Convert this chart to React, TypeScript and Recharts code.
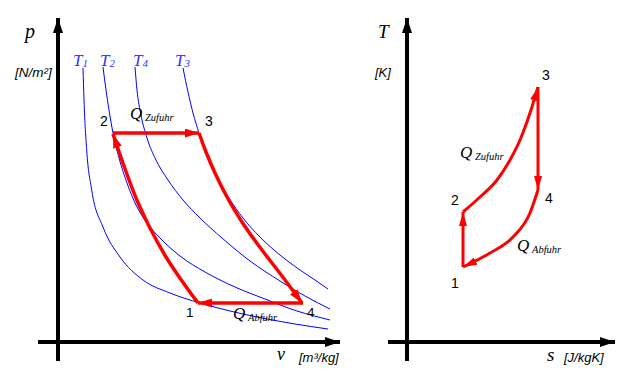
import React from 'react';
import { ComposedChart, Line, XAxis, YAxis } from 'recharts';

// ---- p-v diagram (v, p in diagram units, origin at axis crossing) ----
const isoT1 = [
  { x: 25, y: 274 }, { x: 26, y: 242 }, { x: 28.7, y: 192 }, { x: 33.7, y: 152 },
  { x: 45, y: 115 }, { x: 62, y: 85 }, { x: 85, y: 62 }, { x: 112, y: 49 },
  { x: 142, y: 39 }, { x: 172, y: 31 }, { x: 204, y: 24 }, { x: 237, y: 18 }, { x: 270, y: 13 },
];
const isoT2 = [
  { x: 45, y: 275 }, { x: 48, y: 252 }, { x: 51, y: 232 }, { x: 55, y: 209 },
  { x: 61, y: 184 }, { x: 69, y: 159 }, { x: 78, y: 137 }, { x: 89, y: 119 },
  { x: 102, y: 104 }, { x: 122, y: 86 }, { x: 147, y: 70 }, { x: 177, y: 55 },
  { x: 207, y: 43 }, { x: 239, y: 31 }, { x: 272, y: 22 },
];
const isoT4 = [
  { x: 77, y: 275 }, { x: 79, y: 252 }, { x: 83, y: 227 }, { x: 89, y: 204 },
  { x: 98, y: 182 }, { x: 110, y: 162 }, { x: 125, y: 142 }, { x: 142, y: 124 },
  { x: 164, y: 104 }, { x: 192, y: 81 }, { x: 222, y: 61 }, { x: 247, y: 46 }, { x: 272, y: 33 },
];
const isoT3 = [
  { x: 125, y: 274 }, { x: 130, y: 250 }, { x: 135, y: 229 }, { x: 141, y: 209 },
  { x: 149, y: 187 }, { x: 159, y: 165 }, { x: 171, y: 144 }, { x: 185, y: 124 },
  { x: 202, y: 105 }, { x: 222, y: 87 }, { x: 242, y: 72 }, { x: 257, y: 62 }, { x: 270, y: 53 },
];
// 2 -> 1 listed with increasing v; arrow drawn at the start (point 2)
const pv12 = [
  { x: 55, y: 208 }, { x: 66, y: 176 }, { x: 78, y: 144 }, { x: 92, y: 114 },
  { x: 108, y: 85 }, { x: 124, y: 61 }, { x: 140, y: 39 },
];
const pv23 = [{ x: 55, y: 209 }, { x: 141, y: 209 }];
const pv34 = [
  { x: 141, y: 209 }, { x: 148, y: 190 }, { x: 157, y: 169 }, { x: 169, y: 145 },
  { x: 184, y: 120 }, { x: 204, y: 92 }, { x: 224, y: 66 }, { x: 244, y: 39 },
];
const pv41 = [{ x: 245, y: 39 }, { x: 140, y: 39 }];
const pvAxisY = [{ x: 0, y: -19 }, { x: 0, y: 324 }];
const pvAxisX = [{ x: -20, y: 0 }, { x: 282, y: 0 }];

// ---- T-s diagram ----
const ts12 = [{ x: 56, y: 75 }, { x: 56, y: 130 }];
const ts23 = [
  { x: 56, y: 130 }, { x: 73, y: 145 }, { x: 90, y: 162 }, { x: 103, y: 182 },
  { x: 113, y: 202 }, { x: 123, y: 229 }, { x: 131, y: 255 },
];
const ts34 = [{ x: 131, y: 255 }, { x: 131, y: 152 }];
// 1 -> 4 listed with increasing s; arrow drawn at the start (point 1)
const ts41 = [
  { x: 56, y: 75 }, { x: 83, y: 89 }, { x: 106, y: 105 }, { x: 123, y: 129 }, { x: 131, y: 152 },
];
const tsAxisY = [{ x: 0, y: -19 }, { x: 0, y: 324 }];
const tsAxisX = [{ x: -19, y: 0 }, { x: 208, y: 0 }];

// ---- labels ----
const isothermLabels = [
  { main: 'T', sub: '1', x: 73 },
  { main: 'T', sub: '2', x: 100 },
  { main: 'T', sub: '4', x: 133 },
  { main: 'T', sub: '3', x: 175 },
];

const W = 625;
const H = 379;
const SERIF = '"Liberation Serif", "Times New Roman", serif';
const SANS = '"Liberation Sans", Arial, sans-serif';
const RED = '#ff0000';

const Q = ({ x, y, sub }: { x: number; y: number; sub: string }) => (
  <>
    <text x={x} y={y} fontFamily={SERIF} fontStyle="italic" fontSize={17} fill="#000">Q</text>
    <text x={x + 15} y={y + 2} fontFamily={SERIF} fontStyle="italic" fontSize={10.5} fill="#000">{sub}</text>
  </>
);

export default function App() {
  const lineBase = { dot: false, activeDot: false, isAnimationActive: false, dataKey: 'y' } as const;
  return (
    <div style={{ position: 'absolute', left: 0, top: 0, width: W, height: H, background: '#fff' }}>
      <div style={{ position: 'absolute', left: 0, top: 0 }}>
        <ComposedChart width={W} height={H} margin={{ top: 0, right: 0, bottom: 0, left: 0 }}>
          <defs>
            <marker id="arrBlkL" viewBox="0 0 15 10" refX="15" refY="5" markerWidth="15" markerHeight="10" orient="auto-start-reverse" markerUnits="userSpaceOnUse">
              <path d="M0,0L15,5L0,10z" fill="#000" />
            </marker>
            <marker id="arrRedL" viewBox="0 0 14 9" refX="14" refY="4.5" markerWidth="14" markerHeight="9" orient="auto-start-reverse" markerUnits="userSpaceOnUse">
              <path d="M0,0L14,4.5L0,9z" fill={RED} />
            </marker>
          </defs>
          <XAxis type="number" dataKey="x" domain={[-58, 567]} hide allowDataOverflow />
          <YAxis type="number" domain={[-37, 342]} hide allowDataOverflow />
          <Line {...lineBase} type="linear" data={pvAxisY} stroke="#000" strokeWidth={4} markerEnd="url(#arrBlkL)" />
          <Line {...lineBase} type="linear" data={pvAxisX} stroke="#000" strokeWidth={4} markerEnd="url(#arrBlkL)" />
          <Line {...lineBase} type="monotone" data={isoT1} stroke="#0000ff" strokeWidth={1} />
          <Line {...lineBase} type="monotone" data={isoT2} stroke="#0000ff" strokeWidth={1} />
          <Line {...lineBase} type="monotone" data={isoT4} stroke="#0000ff" strokeWidth={1} />
          <Line {...lineBase} type="monotone" data={isoT3} stroke="#0000ff" strokeWidth={1} />
          <Line {...lineBase} type="monotone" data={pv12} stroke={RED} strokeWidth={3.5} markerStart="url(#arrRedL)" />
          <Line {...lineBase} type="linear" data={pv23} stroke={RED} strokeWidth={3.5} markerEnd="url(#arrRedL)" />
          <Line {...lineBase} type="monotone" data={pv34} stroke={RED} strokeWidth={3.5} markerEnd="url(#arrRedL)" />
          <Line {...lineBase} type="linear" data={pv41} stroke={RED} strokeWidth={3.5} markerEnd="url(#arrRedL)" />
        </ComposedChart>
      </div>
      <div style={{ position: 'absolute', left: 0, top: 0 }}>
        <ComposedChart width={W} height={H} margin={{ top: 0, right: 0, bottom: 0, left: 0 }}>
          <defs>
            <marker id="arrBlkR" viewBox="0 0 15 10" refX="15" refY="5" markerWidth="15" markerHeight="10" orient="auto-start-reverse" markerUnits="userSpaceOnUse">
              <path d="M0,0L15,5L0,10z" fill="#000" />
            </marker>
            <marker id="arrRedR" viewBox="0 0 14 8" refX="14" refY="4" markerWidth="14" markerHeight="8" orient="auto-start-reverse" markerUnits="userSpaceOnUse">
              <path d="M0,0L14,4L0,8z" fill={RED} />
            </marker>
          </defs>
          <XAxis type="number" dataKey="x" domain={[-407, 218]} hide allowDataOverflow />
          <YAxis type="number" domain={[-37, 342]} hide allowDataOverflow />
          <Line {...lineBase} type="linear" data={tsAxisY} stroke="#000" strokeWidth={4} markerEnd="url(#arrBlkR)" />
          <Line {...lineBase} type="linear" data={tsAxisX} stroke="#000" strokeWidth={4} markerEnd="url(#arrBlkR)" />
          <Line {...lineBase} type="linear" data={ts12} stroke={RED} strokeWidth={3} markerEnd="url(#arrRedR)" />
          <Line {...lineBase} type="monotone" data={ts23} stroke={RED} strokeWidth={3} markerEnd="url(#arrRedR)" />
          <Line {...lineBase} type="linear" data={ts34} stroke={RED} strokeWidth={3} markerEnd="url(#arrRedR)" />
          <Line {...lineBase} type="monotone" data={ts41} stroke={RED} strokeWidth={3} markerStart="url(#arrRedR)" />
        </ComposedChart>
      </div>
      <svg width={W} height={H} style={{ position: 'absolute', left: 0, top: 0 }}>
        {/* p-v texts */}
        <text x={25} y={38} fontFamily={SERIF} fontStyle="italic" fontSize={20}>p</text>
        <text x={15} y={77} fontFamily={SANS} fontStyle="italic" fontSize={13.5}>[N/m²]</text>
        <text x={277} y={360} fontFamily={SERIF} fontStyle="italic" fontSize={18}>v</text>
        <text x={299} y={362} fontFamily={SANS} fontStyle="italic" fontSize={13}>[m³/kg]</text>
        {isothermLabels.map((t) => (
          <text key={t.sub} x={t.x} y={66} fontFamily={SERIF} fontStyle="italic" fontSize={17} fill="#3333ff">
            {t.main}
            <tspan fontSize={11} dy={1}>{t.sub}</tspan>
          </text>
        ))}
        <text x={100} y={126} fontFamily={SANS} fontSize={14}>2</text>
        <text x={205} y={126} fontFamily={SANS} fontSize={14}>3</text>
        <text x={186} y={317} fontFamily={SANS} fontSize={13.5}>1</text>
        <text x={307} y={317} fontFamily={SANS} fontSize={13.5}>4</text>
        <Q x={130} y={119} sub="Zufuhr" />
        <Q x={233} y={319} sub="Abfuhr" />
        {/* T-s texts */}
        <text x={378} y={38} fontFamily={SERIF} fontStyle="italic" fontSize={19}>T</text>
        <text x={375} y={77} fontFamily={SANS} fontStyle="italic" fontSize={13}>[K]</text>
        <text x={547} y={361} fontFamily={SERIF} fontStyle="italic" fontSize={19}>s</text>
        <text x={564} y={362} fontFamily={SANS} fontStyle="italic" fontSize={13}>[J/kgK]</text>
        <text x={542} y={80} fontFamily={SANS} fontSize={14}>3</text>
        <text x={451} y={205} fontFamily={SANS} fontSize={14}>2</text>
        <text x={545} y={203} fontFamily={SANS} fontSize={14}>4</text>
        <text x={451} y={288} fontFamily={SANS} fontSize={14}>1</text>
        <Q x={460} y={158} sub="Zufuhr" />
        <Q x={517} y={251} sub="Abfuhr" />
      </svg>
    </div>
  );
}
